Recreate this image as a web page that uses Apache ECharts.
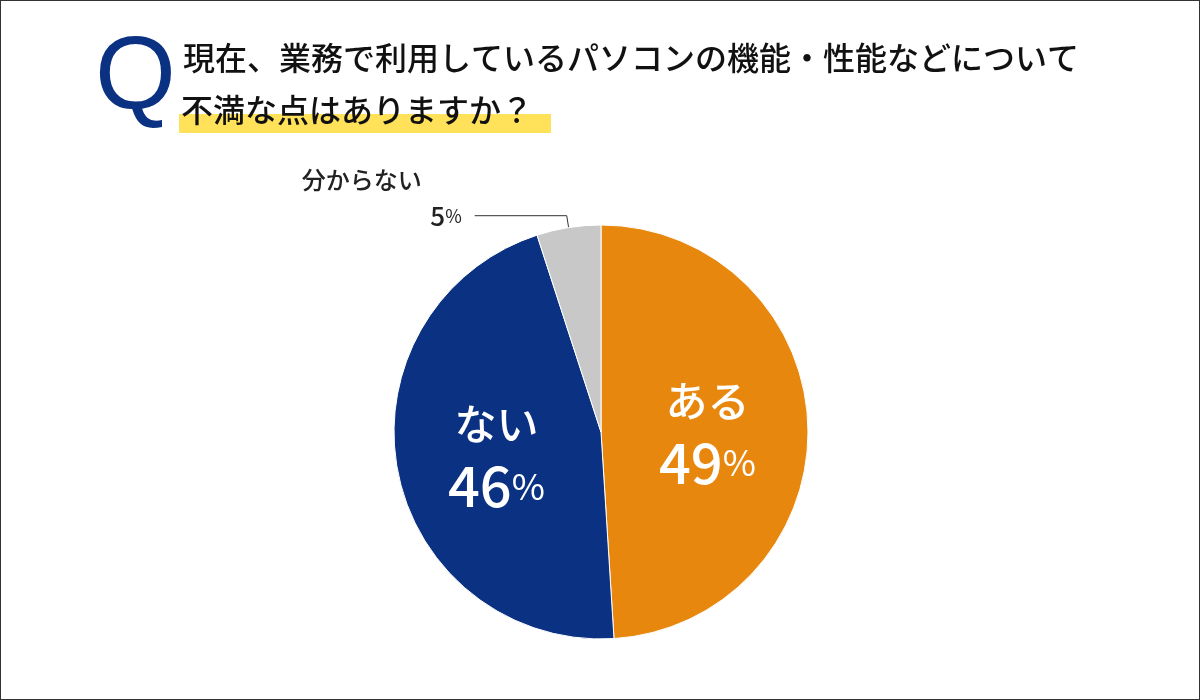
<!DOCTYPE html>
<html>
<head>
    <meta charset="utf-8" />
    <title>パソコンの機能・性能への不満</title>
    <style>
        html, body { margin: 0; padding: 0; background: #fff; }
        #divChart { width: 1200px; height: 700px; box-sizing: border-box; border: 1px solid #333; }
    </style>
</head>
<body>
    <div id="divChart"></div>
    <script src="https://cdn.jsdelivr.net/npm/echarts@6/dist/echarts.min.js"></script>
    <script>
        var categories = ['ある', 'ない', '分からない'];
        var values = [49, 46, 5];
        var colors = ['#E8870E', '#0A3182', '#C8C8C8'];
        var titleLine1 = '現在、業務で利用しているパソコンの機能・性能などについて';
        var titleLine2 = '不満な点はありますか？';

        var font = '"Noto Sans CJK JP", "Noto Sans", sans-serif';
        var myChart = echarts.init(document.getElementById('divChart'));

        var pieData = categories.map(function (name, i) {
            var item = { name: name, value: values[i], itemStyle: { color: colors[i] } };
            if (i === 2) {
                item.label = {
                    position: 'outside',
                    formatter: '{s|{b}}\n{n|{c}}{p|%}',
                    padding: [0, 8, 46, 0],
                    rich: {
                        s: { fontSize: 24, color: '#222', fontWeight: 500, fontFamily: font, lineHeight: 46, width: 160, align: 'left' },
                        n: { fontSize: 26, color: '#222', fontFamily: font },
                        p: { fontSize: 18, color: '#222', fontFamily: font }
                    }
                };
                item.labelLine = { show: true, length: 12, length2: 92, lineStyle: { color: '#333', width: 1 } };
            }
            return item;
        });

        var option = {
            animation: false,
            graphic: [
                { type: 'rect', shape: { x: 178, y: 113, width: 372, height: 19 }, style: { fill: '#FFE15A' } },
                { type: 'text', left: 94, top: 26, style: { text: 'Q', fill: '#0A3182', fontSize: 104, fontWeight: 'lighter', fontFamily: 'Liberation Sans, sans-serif' } },
                { type: 'text', left: 182, top: 41, style: { text: titleLine1, fill: '#111', fontSize: 32, fontWeight: 500, fontFamily: font } },
                { type: 'text', left: 180, top: 93, style: { text: titleLine2, fill: '#111', fontSize: 32, fontWeight: 500, fontFamily: font } }
            ],
            series: [
                {
                    type: 'pie',
                    center: [600, 431],
                    radius: [0, 207],
                    startAngle: 90,
                    clockwise: true,
                    itemStyle: { borderColor: '#fff', borderWidth: 1 },
                    label: {
                        position: 'inside',
                        formatter: '{s|{b}}\n{n|{c}}{p|%}',
                        rich: {
                            s: { fontSize: 42, color: '#fff', fontWeight: 500, fontFamily: font, lineHeight: 68 },
                            n: { fontSize: 56, color: '#fff', fontWeight: 500, fontFamily: font },
                            p: { fontSize: 36, color: '#fff', fontFamily: font }
                        }
                    },
                    labelLine: { show: false },
                    data: pieData
                }
            ]
        };
        myChart.setOption(option);
    </script>
</body>
</html>
